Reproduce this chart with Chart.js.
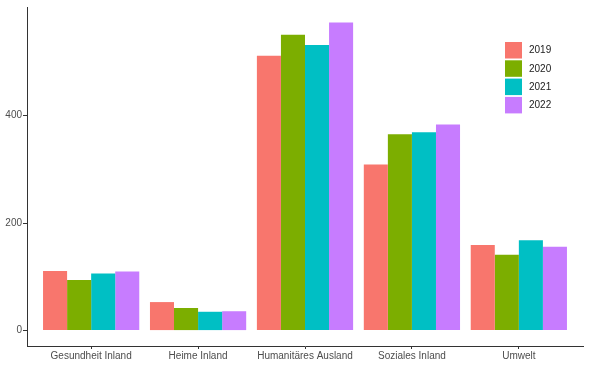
<!DOCTYPE html>
<html>
<head>
<meta charset="utf-8">
<script src="https://cdn.jsdelivr.net/npm/chart.js@4/dist/chart.umd.min.js"></script>
<style>
  html, body { margin: 0; padding: 0; background: #ffffff; }
  #wrap { width: 590px; height: 366px; }
</style>
</head>
<body>
<div id="wrap"><canvas id="c" width="590" height="366"></canvas></div>
<script>
const categories = ["Gesundheit Inland", "Heime Inland", "Humanitäres Ausland", "Soziales Inland", "Umwelt"];
const years = ["2019", "2020", "2021", "2022"];
const values2019 = [111, 53, 511, 309, 159];
const values2020 = [94, 42, 550, 365, 141];
const values2021 = [106, 35, 531, 369, 168];
const values2022 = [110, 36, 573, 383, 156];
const yTickValues = [0, 200, 400];

const seriesValues = [values2019, values2020, values2021, values2022];
const colors = ["#F8766D", "#7CAE00", "#00BFC4", "#C77CFF"];
const FONT = "'Liberation Sans', Arial, sans-serif";

const datasets = years.map((y, k) => ({
  label: y,
  data: seriesValues[k].map((v, i) => ({ x: i, y: v })),
  backgroundColor: colors[k],
  borderWidth: 0,
  barPercentage: 1.0,
  categoryPercentage: 0.9
}));

const legendPlugin = {
  id: 'ggLegend',
  afterDraw(chart) {
    const ctx = chart.ctx;
    const area = chart.chartArea;
    const x0 = area.right - 78;
    const y0 = area.top + 35;
    const step = 18.3;
    ctx.save();
    chart.data.datasets.forEach((ds, k) => {
      const y = y0 + k * step;
      ctx.fillStyle = ds.backgroundColor;
      ctx.fillRect(x0, y, 17, 16.5);
      ctx.fillStyle = '#1a1a1a';
      ctx.font = '10px ' + FONT;
      ctx.textBaseline = 'middle';
      ctx.textAlign = 'left';
      ctx.fillText(ds.label, x0 + 24, y + 8.5);
    });
    ctx.restore();
  }
};

const dataMax = Math.max(...seriesValues.flat());
const pad = dataMax * 0.05;

new Chart(document.getElementById('c'), {
  type: 'bar',
  data: { datasets },
  options: {
    responsive: false,
    animation: false,
    devicePixelRatio: 1,
    layout: { padding: { top: 5, right: 7, left: 0, bottom: 0 } },
    plugins: { legend: { display: false }, tooltip: { enabled: false } },
    scales: {
      x: {
        type: 'linear',
        offset: false,
        min: -0.6,
        max: categories.length - 1 + 0.6,
        afterBuildTicks: s => { s.ticks = categories.map((c, i) => ({ value: i })); },
        afterFit: s => { s.height = 20; },
        ticks: {
          callback: (v, idx) => categories[idx],
          autoSkip: false,
          maxRotation: 0,
          includeBounds: false,
          padding: 1,
          color: '#4d4d4d',
          font: { family: FONT, size: 10 }
        },
        grid: { offset: false, drawOnChartArea: false, drawTicks: true, tickLength: 3, color: '#333333', lineWidth: 1 },
        border: { display: true, color: '#333333', width: 1 }
      },
      y: {
        type: 'linear',
        min: -pad,
        max: dataMax + pad,
        afterBuildTicks: s => { s.ticks = yTickValues.map(v => ({ value: v })); },
        afterFit: s => { s.width = 27; },
        ticks: {
          includeBounds: false,
          padding: 1,
          color: '#4d4d4d',
          font: { family: FONT, size: 10 }
        },
        grid: { drawOnChartArea: false, drawTicks: true, tickLength: 4, color: '#333333', lineWidth: 1 },
        border: { display: true, color: '#333333', width: 1 }
      }
    }
  },
  plugins: [legendPlugin]
});
</script>
</body>
</html>
